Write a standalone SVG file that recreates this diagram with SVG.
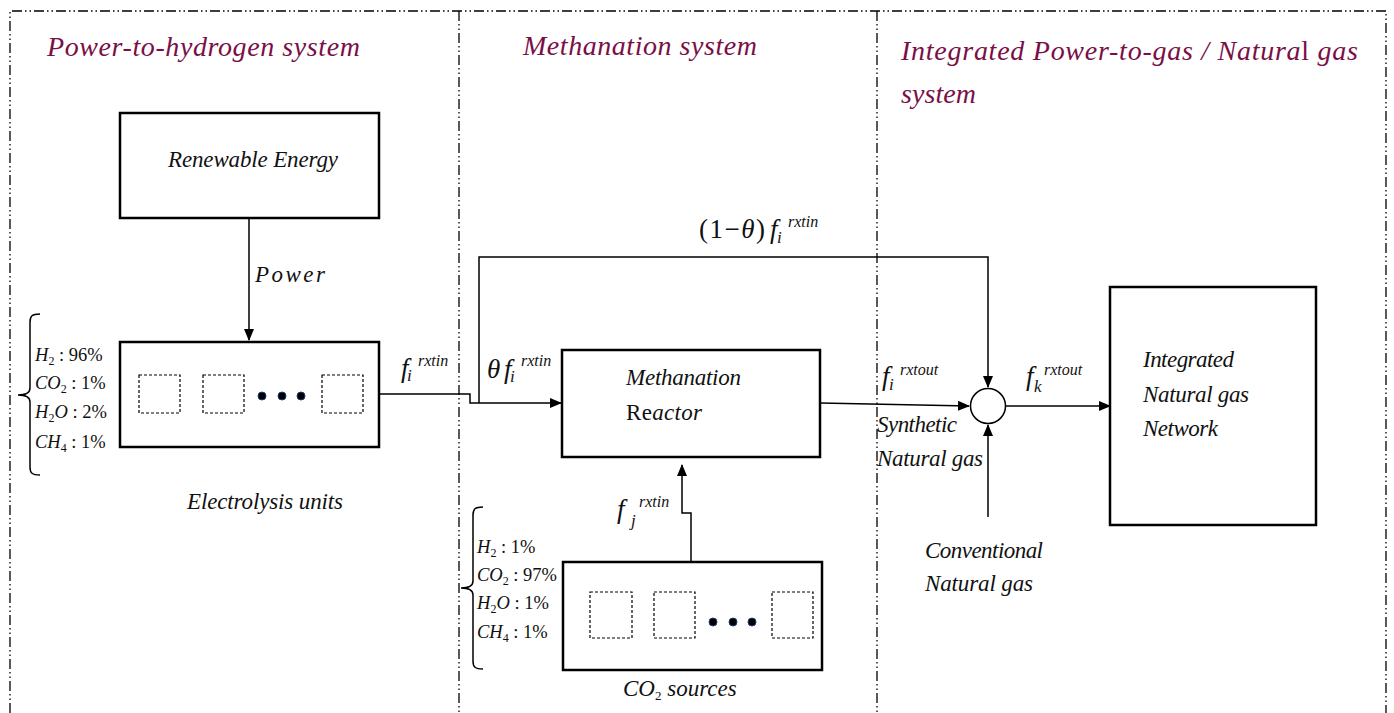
<svg xmlns="http://www.w3.org/2000/svg" width="1394" height="713" viewBox="0 0 1394 713">
<defs>
<marker id="arr" markerWidth="12" markerHeight="10" refX="11" refY="5" orient="auto" markerUnits="userSpaceOnUse">
<path d="M0,0 L12,5 L0,10 Z" fill="#000"/>
</marker>
<style>
.border{fill:none;stroke:#000;stroke-width:1.3;stroke-dasharray:10 3 1.5 3 1.5 3}
.box{fill:#fff;stroke:#000;stroke-width:2.5}
.unit{fill:none;stroke:#000;stroke-width:1.2;stroke-dasharray:3 2}
.dot{fill:#000;stroke:#1f3b7a;stroke-width:1}
.line{fill:none;stroke:#000;stroke-width:1.5}
.title{font-family:"Liberation Serif",serif;font-style:italic;font-size:28px;fill:#7a0f48}
.t{font-family:"Liberation Serif",serif;font-style:italic;font-size:23px;fill:#111}
.m{font-family:"Liberation Serif",serif;font-size:18.5px;fill:#111}
.i{font-style:italic}
.f{font-family:"Liberation Serif",serif;font-style:italic;font-size:27px;fill:#111}
.sup{font-family:"Liberation Serif",serif;font-style:italic;font-size:16px;fill:#111}
.sub{font-family:"Liberation Serif",serif;font-style:italic;font-size:17px;fill:#111}
.up{font-family:"Liberation Serif",serif;font-size:27px;fill:#111}
</style>
</defs>

<g id="frame">
<path class="border" d="M10,713 V11 H1386 V713"/>
<path class="border" d="M459,11 V713"/>
<path class="border" d="M877,11 V713"/>
</g>

<g id="titles">
<text class="title" x="47" y="56" textLength="313" lengthAdjust="spacing">Power-to-hydrogen system</text>
<text class="title" x="523" y="55" textLength="234" lengthAdjust="spacing">Methanation system</text>
<text class="title" x="901" y="60" textLength="457" lengthAdjust="spacing">Integrated Power-to-gas / Natura<tspan font-style="normal">l</tspan> gas</text>
<text class="title" x="901" y="103" textLength="75" lengthAdjust="spacing">system</text>
</g>

<g id="connectors">
<path class="line" d="M249,218 V340" marker-end="url(#arr)"/>
<path class="line" d="M379,394 H470 V403 H561" marker-end="url(#arr)"/>
<path class="line" d="M479,403 V257 H988 V387" marker-end="url(#arr)"/>
<path class="line" d="M820,403 L969,406" marker-end="url(#arr)"/>
<path class="line" d="M988,517 V425" marker-end="url(#arr)"/>
<path class="line" d="M1005,406 H1110" marker-end="url(#arr)"/>
<path class="line" d="M691,562 V513 H682 V465" marker-end="url(#arr)"/>
<path class="line" d="M40,314 C32,314 30,316 30,322 V388 C30,393 26,395 18,395 C26,395 30,397 30,402 V467 C30,473 32,475 40,475"/>
<path class="line" d="M483,507 C475,507 473,509 473,515 V581 C473,586 469,588 461,588 C469,588 473,590 473,595 V661 C473,667 475,669 483,669"/>
</g>

<g id="renewable">
<rect class="box" x="120" y="113" width="259" height="105"/>
<text class="t" x="168" y="167" textLength="170" lengthAdjust="spacing">Renewable Energy</text>
</g>
<text class="t" x="255" y="282" font-size="30" textLength="70" lengthAdjust="spacing">Power</text>

<g id="electrolysis">
<rect class="box" x="120" y="342" width="259" height="105"/>
<rect class="unit" x="139" y="375" width="41" height="38"/>
<rect class="unit" x="203" y="375" width="41" height="38"/>
<circle class="dot" cx="262" cy="396" r="4"/>
<circle class="dot" cx="282" cy="396" r="4"/>
<circle class="dot" cx="301" cy="396" r="4"/>
<rect class="unit" x="322" y="375" width="41" height="38"/>
<text class="t" x="187" y="509" textLength="156" lengthAdjust="spacing">Electrolysis units</text>
</g>

<g id="comp1" class="m">
<text x="35" y="361"><tspan class="i">H</tspan><tspan font-size="12" dy="4">2</tspan><tspan dy="-4"> : 96%</tspan></text>
<text x="35" y="389"><tspan class="i">CO</tspan><tspan font-size="12" dy="4">2</tspan><tspan dy="-4"> : 1%</tspan></text>
<text x="35" y="418"><tspan class="i">H</tspan><tspan font-size="12" dy="4">2</tspan><tspan class="i" dy="-4">O</tspan><tspan> : 2%</tspan></text>
<text x="35" y="448"><tspan class="i">CH</tspan><tspan font-size="12" dy="4">4</tspan><tspan dy="-4"> : 1%</tspan></text>
</g>

<g id="lbl-f-in">
<text class="f" x="401" y="377">f</text>
<text class="sup" x="418" y="366">rxtin</text>
<text class="sub" x="407" y="381">i</text>
</g>

<g id="lbl-theta">
<text class="f" x="487" y="378">θ</text>
<text class="f" x="504" y="378">f</text>
<text class="sup" x="521" y="366">rxtin</text>
<text class="sub" x="510" y="382">i</text>
</g>

<g id="lbl-bypass">
<text class="up" x="699" y="238" textLength="66" lengthAdjust="spacing">(1−<tspan font-style="italic">θ</tspan>)</text>
<text class="f" x="770" y="238">f</text>
<text class="sup" x="788" y="227">rxtin</text>
<text class="sub" x="777" y="243">i</text>
</g>

<g id="reactor">
<rect class="box" x="562" y="350" width="258" height="107"/>
<text class="t" x="626" y="385" textLength="115" lengthAdjust="spacing">Methanation</text>
<text class="t" x="626" y="420" textLength="76" lengthAdjust="spacing"><tspan font-style="normal">Re</tspan>actor</text>
</g>

<g id="lbl-fj">
<text class="f" x="617" y="518">f</text>
<text class="sup" x="639" y="507">rxtin</text>
<text class="sub" x="631" y="526">j</text>
</g>

<g id="co2sources">
<rect class="box" x="563" y="562" width="259" height="108"/>
<rect class="unit" x="590" y="592" width="42" height="46"/>
<rect class="unit" x="654" y="592" width="41" height="46"/>
<circle class="dot" cx="713" cy="622" r="4"/>
<circle class="dot" cx="733" cy="622" r="4"/>
<circle class="dot" cx="752" cy="622" r="4"/>
<rect class="unit" x="772" y="592" width="41" height="46"/>
<text class="t" x="623" y="696">CO<tspan font-size="13" font-style="normal" dy="4">2</tspan><tspan dy="-4"> sources</tspan></text>
</g>

<g id="comp2" class="m">
<text x="477" y="553"><tspan class="i">H</tspan><tspan font-size="12" dy="4">2</tspan><tspan dy="-4"> : 1%</tspan></text>
<text x="477" y="581"><tspan class="i">CO</tspan><tspan font-size="12" dy="4">2</tspan><tspan dy="-4"> : 97%</tspan></text>
<text x="477" y="609"><tspan class="i">H</tspan><tspan font-size="12" dy="4">2</tspan><tspan class="i" dy="-4">O</tspan><tspan> : 1%</tspan></text>
<text x="477" y="638"><tspan class="i">CH</tspan><tspan font-size="12" dy="4">4</tspan><tspan dy="-4"> : 1%</tspan></text>
</g>

<g id="mixer">
<circle cx="988" cy="406" r="17.5" fill="#fff" stroke="#000" stroke-width="1.5"/>
</g>

<g id="lbl-rxtout">
<text class="f" x="882" y="385">f</text>
<text class="sup" x="900" y="375">rxtout</text>
<text class="sub" x="889" y="390">i</text>
<text class="f" x="1026" y="385">f</text>
<text class="sup" x="1044" y="375">rxtout</text>
<text class="sub" x="1034" y="392">k</text>
</g>

<g id="synthetic">
<text class="t" x="877" y="432" textLength="80" lengthAdjust="spacing">Synthetic</text>
<text class="t" x="877" y="466" textLength="106" lengthAdjust="spacing">Natural gas</text>
</g>

<g id="conventional">
<text class="t" x="925" y="558" textLength="118" lengthAdjust="spacing">Conventional</text>
<text class="t" x="925" y="591" textLength="108" lengthAdjust="spacing">Natural gas</text>
</g>

<g id="network">
<rect class="box" x="1110" y="287" width="206" height="238"/>
<text class="t" x="1143" y="367" textLength="91" lengthAdjust="spacing">Integrated</text>
<text class="t" x="1143" y="402" textLength="106" lengthAdjust="spacing">Natural gas</text>
<text class="t" x="1143" y="436" textLength="75" lengthAdjust="spacing">Network</text>
</g>
</svg>
